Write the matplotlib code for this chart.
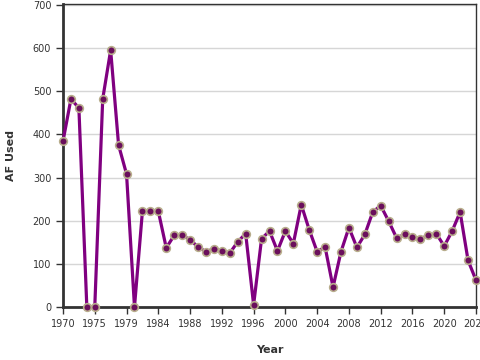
import matplotlib
matplotlib.use('Agg')
import matplotlib.pyplot as plt

years = [1970, 1971, 1972, 1973, 1975, 1976, 1977, 1978, 1979, 1980, 1981, 1982,
         1984, 1985, 1986, 1987, 1988, 1989, 1990, 1991, 1992, 1993, 1994, 1995,
         1996, 1997, 1998, 1999, 2000, 2001, 2002, 2003, 2004, 2005, 2006, 2007,
         2008, 2009, 2010, 2011, 2012, 2013, 2014, 2015, 2016, 2017, 2018, 2019,
         2020, 2021, 2022, 2023, 2024]
af_used = [384, 482, 461, 0, 0, 482, 595, 375, 308, 0, 222, 222,
           222, 137, 166, 166, 156, 139, 128, 135, 129, 125, 151, 170,
           5, 158, 176, 130, 176, 147, 237, 179, 128, 139, 46, 128,
           184, 138, 168, 220, 235, 199, 160, 168, 162, 158, 166, 170,
           141, 176, 220, 108, 62]
y_ticks = [0, 100, 200, 300, 400, 500, 600, 700]

x = list(range(len(years)))

fig = plt.figure(figsize=(4.8, 3.6), dpi=100)
ax = fig.add_axes([63/480, 53/360, 413/480, 303/360])

ax.plot(x, af_used, color='#800080', linewidth=2.3, zorder=3,
        marker='o', markersize=5.5, markerfacecolor='#6a0f5c',
        markeredgecolor='#b8ad8c', markeredgewidth=1.2, clip_on=False)

ax.set_xlim(0, 52)
ax.set_ylim(0, 702)
ax.set_yticks(y_ticks)
ax.set_xticks(x[::4])
ax.set_xticklabels([str(y) for y in years[::4]])
ax.grid(axis='y', color='#d6d6d6', linewidth=1)
ax.set_axisbelow(True)

for s in ['left', 'bottom']:
    ax.spines[s].set_linewidth(2)
    ax.spines[s].set_color('#333333')
for s in ['top', 'right']:
    ax.spines[s].set_linewidth(1)
    ax.spines[s].set_color('#333333')

ax.tick_params(labelsize=7, colors='#333333', length=5, width=1)
ax.set_ylabel('AF Used', fontsize=8, fontweight='bold', color='#333333', labelpad=12)
ax.set_xlabel('Year', fontsize=8, fontweight='bold', color='#333333', labelpad=12)

fig.savefig('out.png', dpi=100)
